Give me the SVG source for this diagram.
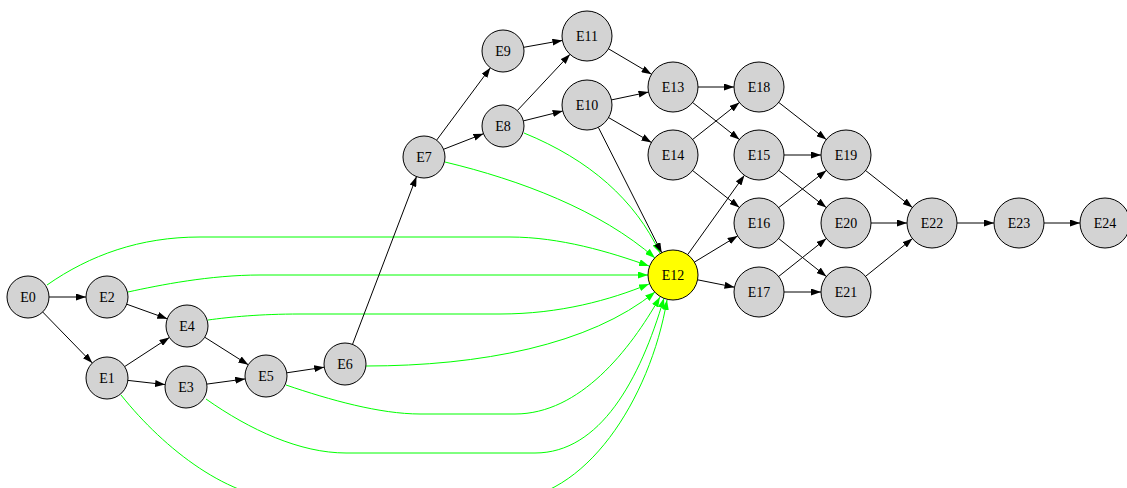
<svg xmlns="http://www.w3.org/2000/svg" width="1127" height="488" viewBox="0 0 1127 488">
<defs>
<marker id="ab" markerUnits="userSpaceOnUse" markerWidth="10" markerHeight="7" refX="10" refY="3.5" orient="auto"><path d="M0,0 L10,3.5 L0,7 z" fill="#000"/></marker>
<marker id="ag" markerUnits="userSpaceOnUse" markerWidth="10" markerHeight="7" refX="10" refY="3.5" orient="auto"><path d="M0,0 L10,3.5 L0,7 z" fill="#00ff00"/></marker>
</defs>
<style>
.n circle{fill:#d3d3d3;stroke:#000;stroke-width:1}
.n text{font-size:14px;text-anchor:middle;fill:#000}
.b{stroke:#000;stroke-width:1;fill:none;marker-end:url(#ab)}
.g{stroke:#00ff00;stroke-width:1;fill:none;marker-end:url(#ag)}
</style>
<rect width="1127" height="488" fill="#fff"/>
<g id="connectors">
<path class="g" d="M47,285 C90,255 140,237 200,237 L510,237 C560,237 610,252 649,266"/>
<path class="g" d="M128,292 C160,285 210,275 260,275 L648,275"/>
<path class="g" d="M208,320 C230,317 260,314 300,314 L500,314 C560,314 610,300 649,284"/>
<path class="g" d="M366,366 C480,366 590,345 655,292"/>
<path class="g" d="M286,385 C330,400 380,414 420,414 L515,414 C580,414 630,350 660,297"/>
<path class="g" d="M206,399 C250,430 300,453 346,453 L535,453 C600,453 640,380 664,298"/>
<path class="g" d="M121,395 C165,450 230,500 290,500 L505,500 C585,500 650,400 667,300"/>
<path class="g" d="M445,162 C520,180 600,210 655,258"/>
<path class="g" d="M524,133 C590,160 635,200 660,253"/>
<line class="b" x1="49" y1="297" x2="86" y2="297"/>
<line class="b" x1="42.7" y1="312" x2="92.3" y2="363"/>
<line class="b" x1="126.7" y1="304.2" x2="167.3" y2="318.8"/>
<line class="b" x1="124.6" y1="366.6" x2="169.4" y2="337.4"/>
<line class="b" x1="127.9" y1="380.4" x2="165.1" y2="384.6"/>
<line class="b" x1="204.7" y1="337.2" x2="248.3" y2="364.8"/>
<line class="b" x1="206.8" y1="384.1" x2="245.2" y2="378.9"/>
<line class="b" x1="286.8" y1="372.8" x2="324.2" y2="367.2"/>
<line class="b" x1="352.5" y1="344.4" x2="416.5" y2="176.6"/>
<line class="b" x1="436.6" y1="140.2" x2="490.4" y2="67.8"/>
<line class="b" x1="443.5" y1="149.3" x2="483.5" y2="133.7"/>
<line class="b" x1="523.7" y1="47.3" x2="562.4" y2="40.4"/>
<line class="b" x1="517.3" y1="110.6" x2="570" y2="54.3"/>
<line class="b" x1="523.4" y1="120.9" x2="562.7" y2="111.1"/>
<line class="b" x1="611.5" y1="99.9" x2="648.5" y2="92.1"/>
<line class="b" x1="608.6" y1="117.6" x2="651.4" y2="142.4"/>
<line class="b" x1="598.3" y1="127.3" x2="661.7" y2="252.7"/>
<line class="b" x1="608.5" y1="48.8" x2="651.5" y2="74.2"/>
<line class="b" x1="698" y1="87" x2="734" y2="87"/>
<line class="b" x1="692.6" y1="102.5" x2="739.4" y2="139.5"/>
<line class="b" x1="692.6" y1="139.5" x2="739.4" y2="102.5"/>
<line class="b" x1="692.6" y1="170.5" x2="739.4" y2="207.5"/>
<line class="b" x1="687.6" y1="254.7" x2="744.4" y2="175.3"/>
<line class="b" x1="694.4" y1="262.1" x2="737.6" y2="235.9"/>
<line class="b" x1="697.5" y1="279.8" x2="734.5" y2="287.2"/>
<line class="b" x1="784" y1="155" x2="821" y2="155"/>
<line class="b" x1="778.7" y1="170.4" x2="826.3" y2="207.6"/>
<line class="b" x1="778.7" y1="207.6" x2="826.3" y2="170.4"/>
<line class="b" x1="778.6" y1="238.5" x2="826.4" y2="276.5"/>
<line class="b" x1="778.6" y1="276.5" x2="826.4" y2="238.5"/>
<line class="b" x1="784" y1="292" x2="821" y2="292"/>
<line class="b" x1="778.7" y1="102.4" x2="826.3" y2="139.6"/>
<line class="b" x1="865.6" y1="170.5" x2="912.4" y2="207.5"/>
<line class="b" x1="871" y1="223" x2="907" y2="223"/>
<line class="b" x1="865.5" y1="276.4" x2="912.5" y2="238.6"/>
<line class="b" x1="957" y1="223" x2="994" y2="223"/>
<line class="b" x1="1044" y1="223" x2="1080" y2="223"/>
</g>
<g id="nodes" font-family="'Liberation Serif', 'Times New Roman', serif">
<g id="E0" class="n"><circle cx="28" cy="297" r="21"/><text x="28" y="302">E0</text></g>
<g id="E1" class="n"><circle cx="107" cy="378" r="21"/><text x="107" y="383">E1</text></g>
<g id="E2" class="n"><circle cx="107" cy="297" r="21"/><text x="107" y="302">E2</text></g>
<g id="E3" class="n"><circle cx="186" cy="387" r="21"/><text x="186" y="392">E3</text></g>
<g id="E4" class="n"><circle cx="187" cy="326" r="21"/><text x="187" y="331">E4</text></g>
<g id="E5" class="n"><circle cx="266" cy="376" r="21"/><text x="266" y="381">E5</text></g>
<g id="E6" class="n"><circle cx="345" cy="364" r="21"/><text x="345" y="369">E6</text></g>
<g id="E7" class="n"><circle cx="424" cy="157" r="21"/><text x="424" y="162">E7</text></g>
<g id="E8" class="n"><circle cx="503" cy="126" r="21"/><text x="503" y="131">E8</text></g>
<g id="E9" class="n"><circle cx="503" cy="51" r="21"/><text x="503" y="56">E9</text></g>
<g id="E10" class="n"><circle cx="587" cy="105" r="25"/><text x="587" y="110">E10</text></g>
<g id="E11" class="n"><circle cx="587" cy="36" r="25"/><text x="587" y="41">E11</text></g>
<g id="E12" class="n"><circle cx="673" cy="275" r="25" style="fill:#ffff00"/><text x="673" y="280">E12</text></g>
<g id="E13" class="n"><circle cx="673" cy="87" r="25"/><text x="673" y="92">E13</text></g>
<g id="E14" class="n"><circle cx="673" cy="155" r="25"/><text x="673" y="160">E14</text></g>
<g id="E15" class="n"><circle cx="759" cy="155" r="25"/><text x="759" y="160">E15</text></g>
<g id="E16" class="n"><circle cx="759" cy="223" r="25"/><text x="759" y="228">E16</text></g>
<g id="E17" class="n"><circle cx="759" cy="292" r="25"/><text x="759" y="297">E17</text></g>
<g id="E18" class="n"><circle cx="759" cy="87" r="25"/><text x="759" y="92">E18</text></g>
<g id="E19" class="n"><circle cx="846" cy="155" r="25"/><text x="846" y="160">E19</text></g>
<g id="E20" class="n"><circle cx="846" cy="223" r="25"/><text x="846" y="228">E20</text></g>
<g id="E21" class="n"><circle cx="846" cy="292" r="25"/><text x="846" y="297">E21</text></g>
<g id="E22" class="n"><circle cx="932" cy="223" r="25"/><text x="932" y="228">E22</text></g>
<g id="E23" class="n"><circle cx="1019" cy="223" r="25"/><text x="1019" y="228">E23</text></g>
<g id="E24" class="n"><circle cx="1105" cy="223" r="25"/><text x="1105" y="228">E24</text></g>
</g>
</svg>
